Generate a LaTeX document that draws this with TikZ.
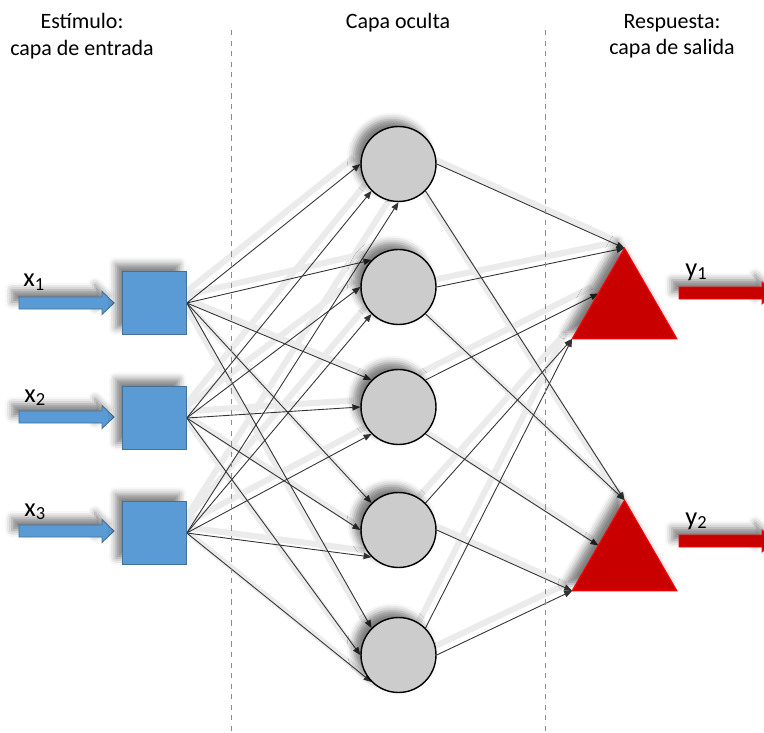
\documentclass[tikz,border=0pt]{standalone}
\usepackage{fontspec}
\setmainfont{Carlito}
\usetikzlibrary{arrows.meta,shapes.geometric,shadows.blur,backgrounds}

\definecolor{inblue}{HTML}{5B9BD5}
\definecolor{inedge}{HTML}{41719C}
\definecolor{outred}{HTML}{C80000}
\definecolor{nodegray}{HTML}{CCCCCC}

\tikzset{
  softshadow/.style={blur shadow={shadow xshift=-0.14cm, shadow yshift=0.14cm,
      shadow blur radius=0.14cm, shadow opacity=50}},
  inbox/.style={rectangle, fill=inblue, draw=inedge, line width=0.6pt,
      minimum size=1.27cm, inner sep=0pt, softshadow},
  hidden/.style={circle, fill=nodegray, draw=black, line width=0.8pt,
      minimum size=1.5cm, inner sep=0pt, softshadow},
  outtri/.style={regular polygon, regular polygon sides=3, fill=outred, draw=red,
      line width=0.6pt, minimum size=2.42cm, inner sep=0pt, outer sep=0pt, softshadow},
  inarrow/.style={fill=inblue, draw=inedge, line width=0.5pt, softshadow},
  outarrow/.style={fill=outred, draw=red, line width=0.5pt, softshadow},
  link/.style={draw=black!80, line width=0.5pt, -{Triangle[length=4.5pt,width=3.6pt]}},
  linkshadow/.style={draw=black!8, line width=3.5pt,
      transform canvas={shift={(-0.13cm,0.13cm)}}},
  title/.style={font=\fontsize{12.5}{15}\selectfont, align=center},
  varlabel/.style={font=\fontsize{15}{18}\selectfont, anchor=base west, inner sep=0pt},
  layersep/.style={draw=black!45, dashed, line width=0.5pt},
}

% input -> hidden -> output connections
\def\netlinks{in1.east/hid1.west, in2.east/hid1.south west, in3.east/hid1.south,
  in1.east/hid2.north west, in2.east/hid2.west, in3.east/hid2.south west,
  in1.east/hid3.north west, in2.east/hid3.west, in3.east/hid3.south west,
  in1.east/hid4.north west, in2.east/hid4.west, in3.east/hid4.south west,
  in1.east/hid5.north west, in2.east/hid5.west, in3.east/hid5.south west,
  hid1.east/out1.corner 1, hid2.east/out1.corner 1, hid3.north east/out1.side 1,
  hid4.north east/out1.corner 2, hid5.north east/out1.corner 2,
  hid1.south east/out2.corner 1, hid2.south east/out2.corner 1,
  hid3.south east/out2.side 1, hid4.east/out2.corner 2, hid5.east/out2.corner 2}

\begin{document}
\begin{tikzpicture}[x=0.02cm, y=-0.02cm]
    \useasboundingbox (0,0) rectangle (764,733);

    % layer titles
    \node[title] (intitle) at (82,36) {Estímulo:\\capa de entrada};
    \node[title, anchor=base] (hidtitle) at (398,29) {Capa oculta};
    \node[title] (outtitle) at (672,36) {Respuesta:\\capa de salida};

    % dashed separators
    \draw[layersep] (231,30) -- (231,733);
    \draw[layersep] (545,30) -- (545,733);

    % input arrows and labels
    \foreach \i/\y in {1/303, 2/417, 3/531} {
        \draw[inarrow] (19,\y-6) -- (102,\y-6) -- (102,\y-11.5) -- (114,\y)
            -- (102,\y+11.5) -- (102,\y+6) -- (19,\y+6) -- cycle;
    }
    \node[varlabel] (xlab1) at (23,287) {x\textsubscript{1}};
    \node[varlabel] (xlab2) at (24,402) {x\textsubscript{2}};
    \node[varlabel] (xlab3) at (24,516) {x\textsubscript{3}};

    % input layer
    \node[inbox] (in1) at (154.5,303) {};
    \node[inbox] (in2) at (154.5,418) {};
    \node[inbox] (in3) at (154.5,533) {};

    % hidden layer
    \node[hidden] (hid1) at (398.5,164) {};
    \node[hidden] (hid2) at (398.5,287) {};
    \node[hidden] (hid3) at (398.5,407) {};
    \node[hidden] (hid4) at (398.5,530) {};
    \node[hidden] (hid5) at (398.5,655) {};

    % output layer
    \node[outtri] (out1) at (624.5,308.6) {};
    \node[outtri] (out2) at (624.5,560.6) {};

    % output arrows and labels
    \begin{scope}
        \clip (0,0) rectangle (764,733);
        \foreach \y in {293, 541} {
            \draw[outarrow] (679,\y-6) -- (762,\y-6) -- (762,\y-11) -- (775,\y)
                -- (762,\y+11) -- (762,\y+6) -- (679,\y+6) -- cycle;
        }
    \end{scope}
    \node[varlabel] (ylab1) at (685,276) {y\textsubscript{1}};
    \node[varlabel] (ylab2) at (685,525) {y\textsubscript{2}};

    % connections
    \begin{scope}[on background layer]
        \foreach \s/\t in \netlinks {
            \draw[linkshadow] (\s) -- (\t);
        }
        \foreach \s/\t in \netlinks {
            \draw[link] (\s) -- (\t);
        }
    \end{scope}
\end{tikzpicture}
\end{document}
